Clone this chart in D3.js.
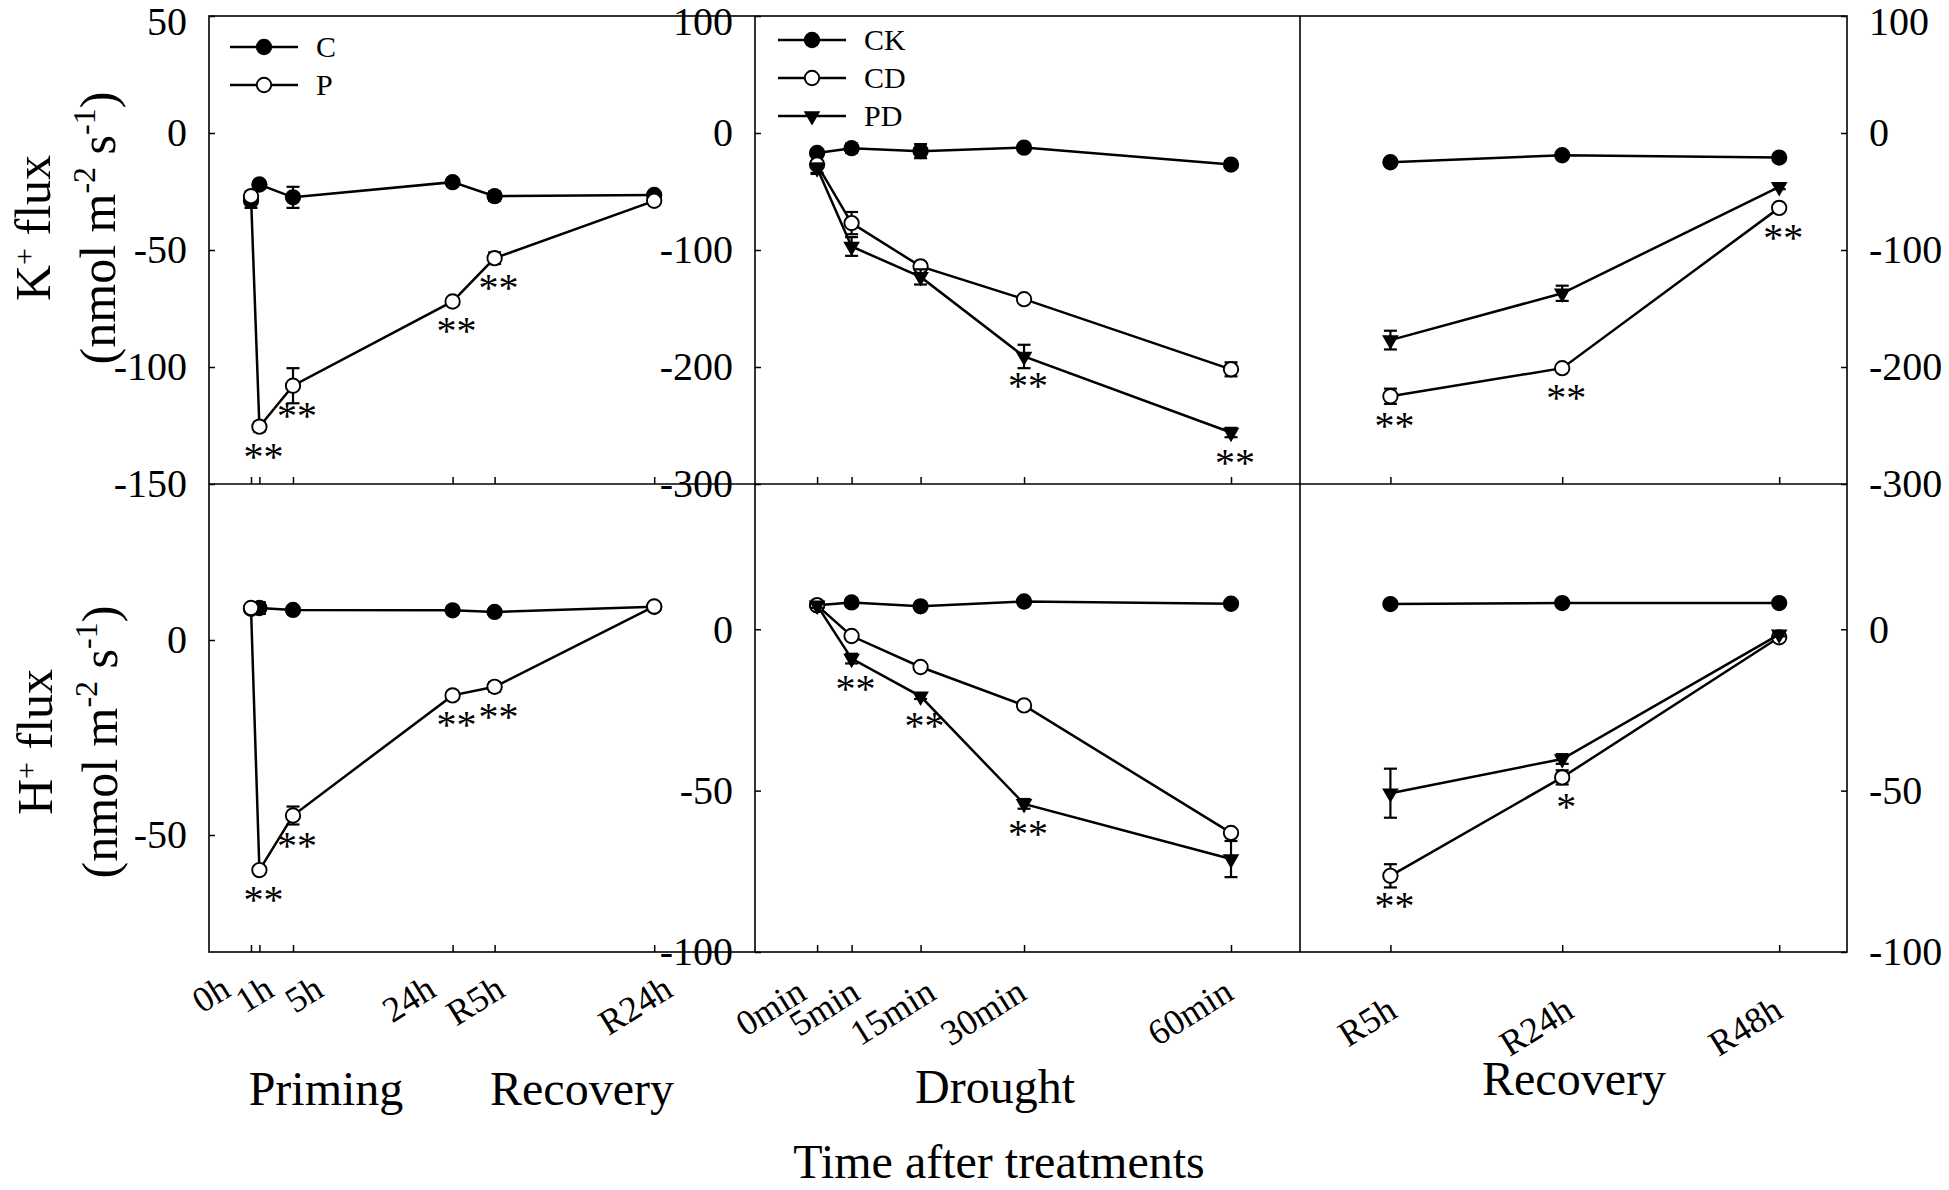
<!DOCTYPE html>
<html>
<head>
<meta charset="utf-8">
<script src="https://cdn.jsdelivr.net/npm/d3@7"></script>
<style>
  body { margin: 0; background: #fff; }
  svg text { font-family: "Liberation Serif", "Times New Roman", serif; fill: #000; }
</style>
</head>
<body>
<svg id="chart" width="1949" height="1190"></svg>
<script>
"use strict";

/* global d3 */

// ---- x categories ----
const primingTimes = [0, 1, 5, 24, 29, 48];
const primingLabels = ['0h', '1h', '5h', '24h', 'R5h', 'R24h'];
const droughtTimes = [0, 5, 15, 30, 60];
const droughtLabels = ['0min', '5min', '15min', '30min', '60min'];
const recoveryTimes = [5, 24, 48];
const recoveryLabels = ['R5h', 'R24h', 'R48h'];

// ---- K+ flux (nmol m-2 s-1) ----
const kPrimingC = [-29, -22, -27.5, -21, -27, -26.5];
const kPrimingCSe = [3, 1.5, 4.5, 1.5, 2, 1];
const kPrimingP = [-27, -125.5, -108, -72, -53.5, -29];
const kPrimingPSe = [2, 2, 7.5, 1.5, 2.5, 1];
const kPrimingSig = ['', '**', '**', '**', '**', ''];

const kDroughtCK = [-17, -13, -15.5, -12.5, -27];
const kDroughtCKSe = [3, 4, 6, 2.5, 3];
const kDroughtCD = [-27, -77, -114, -142, -202];
const kDroughtCDSe = [8, 9.5, 3, 2, 6];
const kDroughtPD = [-30, -97, -123, -191, -256];
const kDroughtPDSe = [4, 8, 6.5, 10, 4];
const kDroughtSig = ['', '', '', '**', '**'];

const kRecoveryCK = [-25, -19, -21];
const kRecoveryCKSe = [3, 2, 2];
const kRecoveryCD = [-225, -201, -64];
const kRecoveryCDSe = [6.5, 2.5, 2];
const kRecoveryPD = [-177, -137, -46];
const kRecoveryPDSe = [8, 6.5, 2];
const kRecoverySig = ['**', '**', '**'];

// ---- H+ flux (nmol m-2 s-1) ----
const hPrimingC = [8, 8.2, 7.7, 7.6, 7.2, 8.5];
const hPrimingCSe = [1, 1.5, 0.8, 0.8, 0.8, 0.5];
const hPrimingP = [8.2, -59, -45, -14.2, -12, 8.6];
const hPrimingPSe = [0.8, 1, 2.3, 0.8, 1.2, 0.6];
const hPrimingSig = ['', '**', '**', '**', '**', ''];

const hDroughtCK = [7.4, 8.3, 7.1, 8.6, 7.9];
const hDroughtCKSe = [0.8, 1.2, 0.8, 0.8, 0.8];
const hDroughtCD = [7.4, -2.1, -11.7, -23.6, -63.1];
const hDroughtCDSe = [0.8, 0.6, 0.6, 1.2, 1];
const hDroughtPD = [7.4, -9.1, -20.8, -54.1, -71.2];
const hDroughtPDSe = [0.8, 1.5, 0.8, 1.5, 5.6];
const hDroughtSig = ['', '**', '**', '**', ''];

const hRecoveryCK = [7.8, 8.1, 8.1];
const hRecoveryCKSe = [0.8, 0.6, 0.6];
const hRecoveryCD = [-76.4, -45.9, -2.5];
const hRecoveryCDSe = [3.6, 2.2, 0.8];
const hRecoveryPD = [-50.8, -40.2, -1.6];
const hRecoveryPDSe = [7.6, 1.5, 0.6];
const hRecoverySig = ['**', '*', ''];

// ---- axis ticks ----
const kPrimingTicks = [50, 0, -50, -100, -150];
const kDroughtTicks = [100, 0, -100, -200, -300];
const hPrimingTicks = [0, -50];
const hDroughtTicks = [0, -50, -100];

const groupNames = ['Priming', 'Recovery', 'Drought', 'Recovery'];
const xTitle = 'Time after treatments';

// ---- layout ----
const W = 1949, H = 1190;
const frame = { left: 209, right: 1847, top: 16, mid: 484, bottom: 952 };
const cols = [[209, 755], [755, 1300], [1300, 1847]];
const xDomains = [[-5, 60], [-9, 70], [-5, 55.5]];
const labelNudge = [[-19, 16, 32, -15, 12, 20], [-9, 10, 17, 4, 4], [8, 13, 5]];
const labelY = [995, 998, 1016];
const groupPos = [[326, 1105], [582, 1105], [995, 1103], [1574, 1095]];
const font = '"Liberation Serif", "Times New Roman", serif';

const markerKind = { C: 'filled', CK: 'filled', P: 'open', CD: 'open', PD: 'triangle' };

function translateStr(x, y) {
  return 'translate(' + x + ', ' + y + ')';
}

function series(key, values, se, sig) {
  return { key: key, values: values, se: se, sig: sig || null };
}

const panels = [
  { row: 0, col: 0, times: primingTimes, labels: primingLabels, yDomain: [-150, 50], yTicks: kPrimingTicks,
    series: [series('C', kPrimingC, kPrimingCSe), series('P', kPrimingP, kPrimingPSe, kPrimingSig)] },
  { row: 0, col: 1, times: droughtTimes, labels: droughtLabels, yDomain: [-300, 100], yTicks: kDroughtTicks,
    series: [series('CK', kDroughtCK, kDroughtCKSe), series('CD', kDroughtCD, kDroughtCDSe),
             series('PD', kDroughtPD, kDroughtPDSe, kDroughtSig)] },
  { row: 0, col: 2, times: recoveryTimes, labels: recoveryLabels, yDomain: [-300, 100], yTicks: kDroughtTicks,
    series: [series('CK', kRecoveryCK, kRecoveryCKSe), series('CD', kRecoveryCD, kRecoveryCDSe, kRecoverySig),
             series('PD', kRecoveryPD, kRecoveryPDSe)] },
  { row: 1, col: 0, times: primingTimes, labels: primingLabels, yDomain: [-80, 40], yTicks: hPrimingTicks,
    series: [series('C', hPrimingC, hPrimingCSe), series('P', hPrimingP, hPrimingPSe, hPrimingSig)] },
  { row: 1, col: 1, times: droughtTimes, labels: droughtLabels, yDomain: [-100, 45], yTicks: hDroughtTicks,
    series: [series('CK', hDroughtCK, hDroughtCKSe), series('CD', hDroughtCD, hDroughtCDSe),
             series('PD', hDroughtPD, hDroughtPDSe, hDroughtSig)] },
  { row: 1, col: 2, times: recoveryTimes, labels: recoveryLabels, yDomain: [-100, 45], yTicks: hDroughtTicks,
    series: [series('CK', hRecoveryCK, hRecoveryCKSe), series('CD', hRecoveryCD, hRecoveryCDSe, hRecoverySig),
             series('PD', hRecoveryPD, hRecoveryPDSe)] }
];

const legends = [
  { x: 230, y: 47, keys: ['C', 'P'] },
  { x: 778, y: 40, keys: ['CK', 'CD', 'PD'] }
];

const svg = d3.select('#chart');
svg.append('rect').attr('width', W).attr('height', H).attr('fill', '#fff');

function drawMarker(sel, kind) {
  if (kind === 'triangle') {
    sel.append('path')
      .attr('d', d3.symbol().type(d3.symbolTriangle).size(120)())
      .attr('transform', 'rotate(180)')
      .attr('fill', '#000');
  } else {
    sel.append('circle')
      .attr('r', 7.2)
      .attr('fill', kind === 'open' ? '#fff' : '#000')
      .attr('stroke', '#000')
      .attr('stroke-width', 1.9);
  }
}

const axisLayer = svg.append('g');
const plotLayer = svg.append('g');

panels.forEach(p => {
  const x0 = cols[p.col][0], x1 = cols[p.col][1];
  const y0 = p.row === 0 ? frame.top : frame.mid;
  const y1 = p.row === 0 ? frame.mid : frame.bottom;

  const x = d3.scaleLinear().domain(xDomains[p.col]).range([x0, x1]);
  const y = d3.scaleLinear().domain(p.yDomain).range([y1, y0]);

  // x ticks on the panel floor, pointing inward
  let xAxis = d3.axisBottom(x)
    .tickValues(p.times)
    .tickSize(-7)
    .tickFormat((d, i) => p.row === 1 ? p.labels[i] : '');

  let ax = axisLayer.append('g')
    .attr('transform', translateStr(0, y1))
    .call(xAxis)
    .attr('font-family', font)
    .attr('font-size', 36);
  ax.select('.domain').remove();
  ax.selectAll('line').attr('stroke', '#000').attr('stroke-width', 1.5);
  ax.selectAll('text')
    .attr('y', null)
    .attr('dy', null)
    .attr('fill', '#000')
    .attr('text-anchor', 'end')
    .attr('transform', (d, i) => translateStr(labelNudge[p.col][i], labelY[p.col] - y1) + ' rotate(-32)');

  // y axis: left for the first two columns, right for the last
  let onRight = p.col === 2;
  let yAxis = (onRight ? d3.axisRight(y) : d3.axisLeft(y))
    .tickValues(p.yTicks)
    .tickSize(-6)
    .tickPadding(22)
    .tickFormat(d => String(d));

  let ay = axisLayer.append('g')
    .attr('transform', translateStr(onRight ? x1 : x0, 0))
    .call(yAxis)
    .attr('font-family', font)
    .attr('font-size', 40);
  ay.select('.domain').remove();
  ay.selectAll('line').attr('stroke', '#000').attr('stroke-width', 1.5);
  ay.selectAll('text')
    .attr('fill', '#000')
    .attr('dy', d => y(d) <= frame.top + 1 ? '0.46em' : '0.32em');

  // data
  let g = plotLayer.append('g');
  let line = d3.line()
    .x(d => x(d.t))
    .y(d => y(d.v));

  p.series.forEach(s => {
    let pts = p.times.map((t, i) => ({ t: t, v: s.values[i], se: s.se[i], sig: s.sig ? s.sig[i] : '' }));

    g.append('path')
      .datum(pts)
      .attr('d', line)
      .attr('fill', 'none')
      .attr('stroke', '#000')
      .attr('stroke-width', 2.5);

    let bars = g.append('g').attr('stroke', '#000').attr('stroke-width', 2.2);
    pts.forEach(d => {
      let cx = x(d.t);
      let top = y(d.v + d.se);
      let bot = y(d.v - d.se);
      bars.append('line').attr('x1', cx).attr('x2', cx).attr('y1', top).attr('y2', bot);
      bars.append('line').attr('x1', cx - 6.5).attr('x2', cx + 6.5).attr('y1', top).attr('y2', top);
      bars.append('line').attr('x1', cx - 6.5).attr('x2', cx + 6.5).attr('y1', bot).attr('y2', bot);
    });

    g.selectAll(null)
      .data(pts)
      .join('g')
      .attr('transform', d => translateStr(x(d.t), y(d.v)))
      .each(function () { drawMarker(d3.select(this), markerKind[s.key]); });

    g.selectAll(null)
      .data(pts.filter(d => d.sig))
      .join('text')
      .attr('x', d => x(d.t) + 4)
      .attr('y', d => y(d.v) + 43)
      .attr('text-anchor', 'middle')
      .attr('font-size', 40)
      .text(d => d.sig);
  });
});

// frame
let frameG = svg.append('g').attr('stroke', '#000').attr('stroke-width', 1.6).attr('fill', 'none');
frameG.append('rect')
  .attr('x', frame.left).attr('y', frame.top)
  .attr('width', frame.right - frame.left).attr('height', frame.bottom - frame.top);
frameG.append('line')
  .attr('x1', frame.left).attr('x2', frame.right).attr('y1', frame.mid).attr('y2', frame.mid);
[cols[1][0], cols[2][0]].forEach(cx => {
  frameG.append('line').attr('x1', cx).attr('x2', cx).attr('y1', frame.top).attr('y2', frame.bottom);
});

// legends
legends.forEach(lg => {
  lg.keys.forEach((k, i) => {
    let cy = lg.y + i * 38;
    let row = svg.append('g').attr('transform', translateStr(lg.x, cy));
    row.append('line').attr('x1', 0).attr('x2', 68).attr('stroke', '#000').attr('stroke-width', 2.5);
    drawMarker(row.append('g').attr('transform', translateStr(34, 0)), markerKind[k]);
    row.append('text').attr('x', 86).attr('y', 10).attr('font-size', 30).text(k);
  });
});

// y titles
function yTitle(cy, ion, bx1, bx2) {
  let g = svg.append('g').attr('font-size', 50);
  let l1 = g.append('text')
    .attr('transform', translateStr(bx1, cy) + ' rotate(-90)')
    .attr('text-anchor', 'middle');
  l1.append('tspan').text(ion);
  l1.append('tspan').attr('font-size', 30).attr('dy', -16).text('+');
  l1.append('tspan').attr('dy', 16).text(' flux');

  let l2 = g.append('text')
    .attr('transform', translateStr(bx2, cy) + ' rotate(-90)')
    .attr('text-anchor', 'middle');
  l2.append('tspan').text('(nmol m');
  l2.append('tspan').attr('font-size', 32).attr('dy', -20).text('-2');
  l2.append('tspan').attr('dy', 20).text(' s');
  l2.append('tspan').attr('font-size', 32).attr('dy', -20).text('-1');
  l2.append('tspan').attr('dy', 20).text(')');
}
yTitle(228, 'K', 50, 115);
yTitle(742, 'H', 52, 117);

// group labels and x title
groupNames.forEach((name, i) => {
  svg.append('text')
    .attr('x', groupPos[i][0]).attr('y', groupPos[i][1])
    .attr('text-anchor', 'middle')
    .attr('font-size', 48)
    .text(name);
});

svg.append('text')
  .attr('x', 999).attr('y', 1178)
  .attr('text-anchor', 'middle')
  .attr('font-size', 48)
  .text(xTitle);
</script>
</body>
</html>
